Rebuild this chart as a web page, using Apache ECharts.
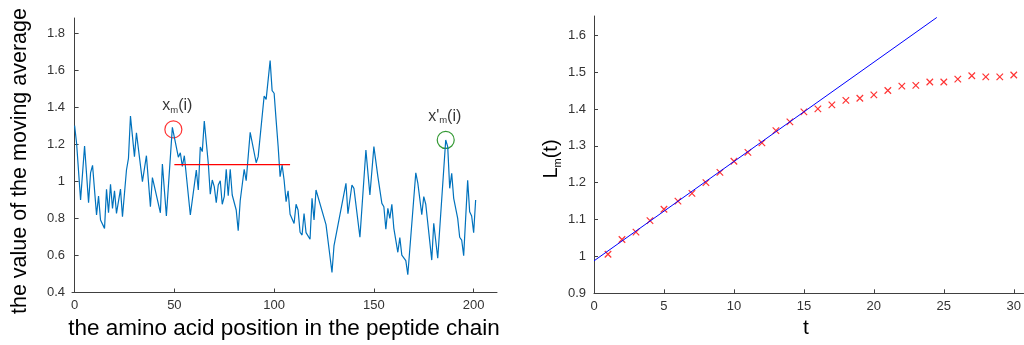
<!DOCTYPE html>
<html>
<head>
<meta charset="utf-8">
<script src="https://cdn.jsdelivr.net/npm/echarts@6/dist/echarts.min.js"></script>
<style>
  html, body { margin: 0; padding: 0; background: #fff; }
  #chart { width: 1024px; height: 345px; }
</style>
</head>
<body>
<div id="chart"></div>
<script>
// Moving average along the peptide chain (turning points of the profile)
const positions = [0, 1, 3, 5, 7, 8, 9, 11, 12, 13, 15, 16, 17, 18, 19, 20, 21, 23, 24, 25,
  26, 27, 28, 30, 31, 34, 36, 38, 39, 43, 44, 46, 49, 50, 52, 53, 54, 55, 58, 61,
  62, 63, 64, 65, 67, 68, 69, 70, 71, 72, 73, 74, 75, 76, 77, 78, 79, 81, 82, 83,
  85, 86, 88, 89, 91, 92, 95, 96, 98, 99, 100, 101, 102, 103, 104, 105, 106, 107, 108, 110,
  111, 112, 113, 114, 115, 116, 118, 119, 120, 121, 126, 129, 130, 131, 136, 137, 139, 140, 143, 146,
  148, 150, 152, 154, 155, 156, 157, 158, 159, 160, 162, 163, 164, 166, 167, 171, 172, 174, 175, 176,
  179, 180, 182, 183, 186, 187, 188, 189, 190, 192, 193, 194, 195, 197, 198, 199, 200, 201];
const movingAvg = [1.30, 1.205, 0.899, 1.19, 0.885, 1.045, 1.086, 0.818, 0.92, 0.791, 0.746, 0.957, 0.83, 0.984, 0.854, 0.949, 0.827, 0.958, 0.809, 0.80,
  1.061, 1.124, 1.352, 1.133, 1.262, 0.998, 1.138, 0.863, 1.02, 0.83, 1.093, 0.813, 1.291, 1.295, 1.13, 1.154, 1.08, 1.138, 0.818, 1.06,
  0.953, 1.185, 1.16, 1.325, 1.097, 0.93, 1.007, 0.971, 0.884, 0.98, 1.003, 0.876, 0.917, 1.065, 0.922, 1.065, 0.926, 0.845, 0.733, 0.895,
  1.065, 1.003, 1.264, 1.271, 1.10, 1.133, 1.46, 1.442, 1.651, 1.489, 1.475, 1.33, 1.19, 1.025, 1.088, 1.007, 0.89, 0.949, 0.822, 0.772,
  0.876, 0.845, 0.725, 0.71, 0.826, 0.723, 0.687, 0.908, 0.791, 0.953, 0.766, 0.508, 0.651, 0.651, 0.989, 0.825, 0.98, 0.962, 0.698, 1.169,
  0.926, 1.187, 1.025, 0.881, 0.863, 0.741, 0.854, 0.80, 0.876, 0.746, 0.617, 0.696, 0.602, 0.572, 0.496, 1.046, 0.992, 0.82, 0.917, 0.876,
  0.575, 0.773, 0.585, 0.585, 1.223, 1.187, 0.962, 1.043, 0.908, 0.80, 0.698, 0.683, 0.599, 1.005, 0.836, 0.813, 0.723, 0.899];

// Reference level and the two marked maxima
const levelStart = 50, levelEnd = 108, levelValue = 1.09;
const peakFirst = [49.5, 1.28];
const peakSecond = [186, 1.223];

// L_m(t) against t, with the linear fit of the early part
const tValues = [1, 2, 3, 4, 5, 6, 7, 8, 9, 10, 11, 12, 13, 14, 15,
  16, 17, 18, 19, 20, 21, 22, 23, 24, 25, 26, 27, 28, 29, 30];
const lValues = [1.006, 1.046, 1.066, 1.097, 1.128, 1.150, 1.171, 1.200, 1.228, 1.258, 1.282, 1.308, 1.341, 1.365, 1.392,
  1.400, 1.411, 1.423, 1.429, 1.438, 1.450, 1.462, 1.464, 1.473, 1.473, 1.481, 1.490, 1.487, 1.487, 1.492];
const fitT = [0, 24.5];
const fitL = [0.988, 1.648];

// Tick labels
const leftXTicks = [0, 50, 100, 150, 200];
const leftYTicks = [0.4, 0.6, 0.8, 1, 1.2, 1.4, 1.6, 1.8];
const rightXTicks = [0, 5, 10, 15, 20, 25, 30];
const rightYTicks = [0.9, 1, 1.1, 1.2, 1.3, 1.4, 1.5, 1.6];

const FONT = '"Liberation Sans", Arial, Helvetica, sans-serif';
const axisColor = '#404040';
const labelColor = '#333333';

function axisBase(ticks, margin) {
  return {
    axisLine: { show: true, lineStyle: { color: axisColor, width: 1 } },
    axisTick: { show: true, inside: true, length: 4, customValues: ticks, lineStyle: { color: axisColor } },
    axisLabel: { customValues: ticks, color: labelColor, fontSize: 13, fontFamily: FONT, margin: margin },
    splitLine: { show: false }
  };
}

const chart = echarts.init(document.getElementById('chart'), null, { renderer: 'canvas' });

const subRich = {
  b: { fontSize: 16, fontFamily: FONT, color: '#000', lineHeight: 19 },
  s: { fontSize: 9.5, fontFamily: FONT, color: '#000', lineHeight: 8, verticalAlign: 'bottom' }
};

chart.setOption({
  animation: false,
  backgroundColor: '#fff',
  grid: [
    { left: 72, top: 18, width: 425, height: 274.5 },
    { left: 594, top: 16, width: 430.4, height: 277.3 }
  ],
  xAxis: [
    Object.assign({ type: 'value', gridIndex: 0, min: -1.3, max: 211.7 }, axisBase(leftXTicks, 6)),
    Object.assign({ type: 'value', gridIndex: 1, min: 0, max: 30.7 }, axisBase(rightXTicks, 7))
  ],
  yAxis: [
    Object.assign({ type: 'value', gridIndex: 0, min: 0.4, max: 1.881 }, axisBase(leftYTicks, 7)),
    Object.assign({ type: 'value', gridIndex: 1, min: 0.9, max: 1.652 }, axisBase(rightYTicks, 8))
  ],
  series: [
    {
      type: 'line', xAxisIndex: 0, yAxisIndex: 0,
      data: positions.map((p, i) => [p, movingAvg[i]]),
      showSymbol: false, silent: true,
      lineStyle: { color: '#0072BD', width: 1.2 }
    },
    {
      type: 'line', xAxisIndex: 0, yAxisIndex: 0,
      data: [[levelStart, levelValue], [levelEnd, levelValue]],
      showSymbol: false, silent: true,
      lineStyle: { color: '#ff0000', width: 1.3 }
    },
    {
      type: 'scatter', xAxisIndex: 0, yAxisIndex: 0,
      data: [peakFirst], symbol: 'circle', symbolSize: 17, silent: true,
      itemStyle: { color: 'rgba(0,0,0,0)', borderColor: '#ff0000', borderWidth: 1.2 },
      label: {
        show: true, position: 'top', distance: 5, offset: [4, 0],
        formatter: '{b|x}{s|m}{b|(i)}', rich: subRich
      }
    },
    {
      type: 'scatter', xAxisIndex: 0, yAxisIndex: 0,
      data: [peakSecond], symbol: 'circle', symbolSize: 17, silent: true,
      itemStyle: { color: 'rgba(0,0,0,0)', borderColor: '#008000', borderWidth: 1.2 },
      label: {
        show: true, position: 'top', distance: 5, offset: [-1, 0],
        formatter: "{b|x'}{s|m}{b|(i)}", rich: subRich
      }
    },
    {
      type: 'line', xAxisIndex: 1, yAxisIndex: 1,
      data: fitT.map((t, i) => [t, fitL[i]]),
      showSymbol: false, silent: true,
      lineStyle: { color: '#0000ff', width: 1 }
    },
    {
      type: 'scatter', xAxisIndex: 1, yAxisIndex: 1,
      data: tValues.map((t, i) => [t, lValues[i]]),
      symbol: 'path://M0,0L10,10M10,0L0,10', symbolSize: 6.5, silent: true,
      itemStyle: { color: '#ff0000', borderColor: '#ff0000', borderWidth: 1.2 }
    }
  ],
  graphic: [
    {
      type: 'text', x: 20, y: 161, rotation: Math.PI / 2, silent: true,
      style: { text: 'the value of the moving average', fontSize: 21.5, fontFamily: FONT, fill: '#000', align: 'center', verticalAlign: 'middle' }
    },
    {
      type: 'text', x: 284, y: 329, silent: true,
      style: { text: 'the amino acid position in the peptide chain', fontSize: 22.5, fontFamily: FONT, fill: '#000', align: 'center', verticalAlign: 'middle' }
    },
    {
      type: 'text', x: 806, y: 328, silent: true,
      style: { text: 't', fontSize: 21, fontFamily: FONT, fill: '#000', align: 'center', verticalAlign: 'middle' }
    },
    {
      type: 'text', x: 551, y: 159, rotation: Math.PI / 2, silent: true,
      style: {
        text: '{b|L}{s|m}{b|(t)}', align: 'center', verticalAlign: 'middle',
        rich: {
          b: { fontSize: 20, fontFamily: FONT, fill: '#000', lineHeight: 24 },
          s: { fontSize: 11, fontFamily: FONT, fill: '#000', lineHeight: 10, verticalAlign: 'bottom' }
        }
      }
    }
  ]
});
</script>
</body>
</html>
